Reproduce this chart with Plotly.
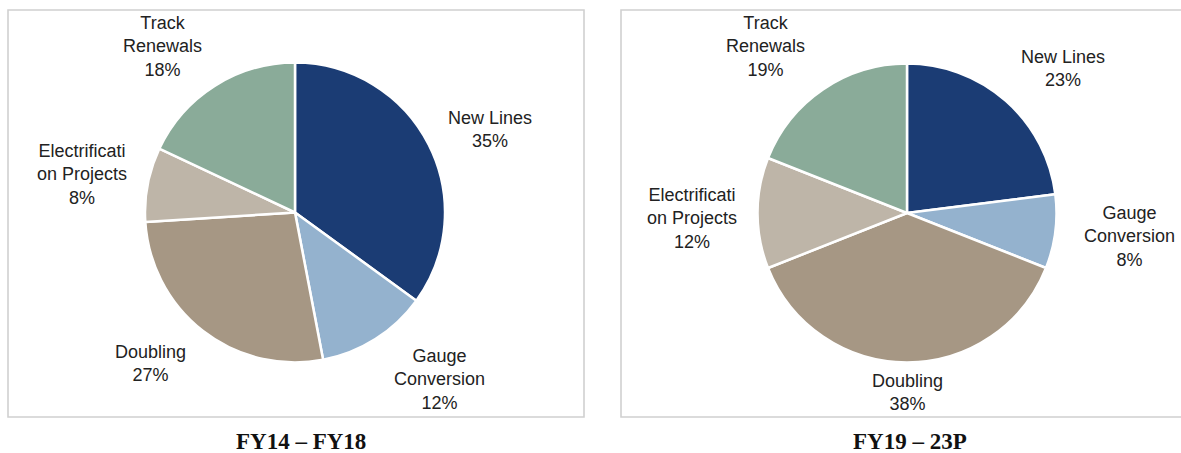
import plotly.graph_objects as go

# ---------------- data ----------------
categories = ["New Lines", "Gauge Conversion", "Doubling",
              "Electrification Projects", "Track Renewals"]
share_fy14_fy18 = [35, 12, 27, 8, 18]
share_fy19_23p = [23, 8, 38, 12, 19]
panel_titles = ["FY14 – FY18", "FY19 – 23P"]

# display wrapping of the category names (as in the source)
wrapped = {
    "New Lines": "New Lines",
    "Gauge Conversion": "Gauge<br>Conversion",
    "Doubling": "Doubling",
    "Electrification Projects": "Electrificati<br>on Projects",
    "Track Renewals": "Track<br>Renewals",
}

# ---------------- style ----------------
W, H = 1181, 453
colors = ["#1B3C74", "#94B2CE", "#A69784", "#BEB5A8", "#8AAB99"]
label_font = dict(family="Liberation Sans, Arial, sans-serif", size=18, color="#222222")
title_font = dict(family="Liberation Serif, Times New Roman, serif", size=23, color="#111111")

# pie geometry in pixels: (centre x, centre y, radius)
pies = [(295, 212.5, 150), (907, 213, 149.5)]
# label centres as pixel offsets from the pie centre (manual placement like the source)
label_offsets = [
    [(195, -83), (144, 167), (-145, 151), (-213, -38), (-133, -166)],
    [(156, -145), (222, 23), (0, 179), (-215, 5), (-142, -166)],
]
title_pos = [(301, 441), (910, 441)]
boxes = [(8, 10, 584, 417), (621, 10, 1190, 417)]


def px(x):
    return x / W


def py(y):
    return 1 - y / H


fig = go.Figure()
series = [share_fy14_fy18, share_fy19_23p]
annotations = []
shapes = []
for i, vals in enumerate(series):
    cx, cy, r = pies[i]
    fig.add_trace(go.Pie(
        labels=categories,
        values=vals,
        sort=False,
        direction="clockwise",
        rotation=0,
        textinfo="none",
        hoverinfo="label+percent",
        marker=dict(colors=colors, line=dict(color="white", width=2.5)),
        domain=dict(x=[px(cx - r), px(cx + r)], y=[py(cy + r), py(cy - r)]),
        showlegend=False,
        name=panel_titles[i],
    ))
    for cat, v, (dx, dy) in zip(categories, vals, label_offsets[i]):
        annotations.append(dict(
            x=px(cx + dx), y=py(cy + dy), xref="paper", yref="paper",
            text=f"{wrapped[cat]}<br>{v}%", showarrow=False,
            xanchor="center", yanchor="middle", align="center", font=label_font,
        ))
    tx, ty = title_pos[i]
    annotations.append(dict(
        x=px(tx), y=py(ty), xref="paper", yref="paper",
        text=f"<b>{panel_titles[i]}</b>", showarrow=False,
        xanchor="center", yanchor="middle", font=title_font,
    ))
    x0, y0, x1, y1 = boxes[i]
    shapes.append(dict(
        type="rect", xref="paper", yref="paper",
        x0=px(x0), x1=px(x1), y0=py(y1), y1=py(y0),
        line=dict(color="#D0D0D0", width=1.6), fillcolor="rgba(0,0,0,0)", layer="below",
    ))

fig.update_layout(
    width=W, height=H,
    margin=dict(l=0, r=0, t=0, b=0),
    paper_bgcolor="white",
    plot_bgcolor="white",
    annotations=annotations,
    shapes=shapes,
)

fig.write_html(
    "out.html",
    config={"displayModeBar": False},
    post_script="document.body.style.margin='0';document.body.style.padding='0';"
                "document.body.style.overflow='hidden';",
)
